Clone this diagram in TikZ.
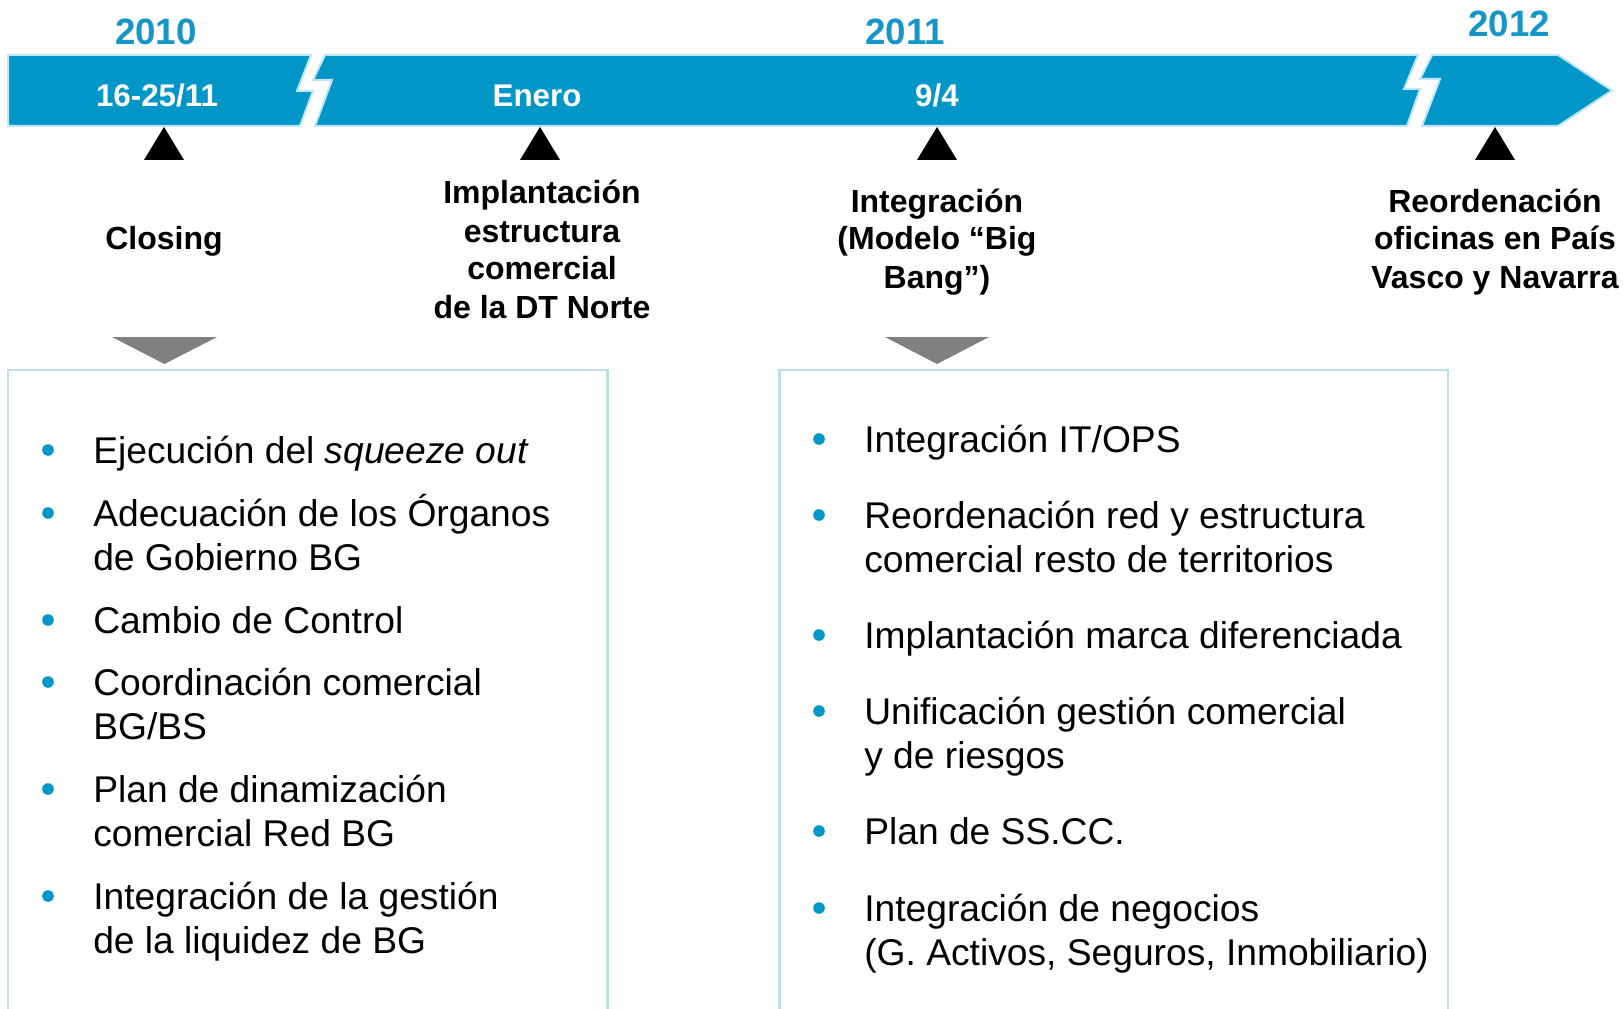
\documentclass[tikz,border=0pt]{standalone}
\usepackage{fontspec}
\setmainfont{Liberation Sans}
\usepackage{tikz}

\definecolor{bandblue}{RGB}{0,151,200}
\definecolor{bandedge}{RGB}{190,230,245}
\definecolor{yearblue}{RGB}{20,150,200}
\definecolor{boxedge}{RGB}{190,224,228}
\definecolor{markgrey}{RGB}{128,128,128}

\begin{document}
\begin{tikzpicture}[x=0.75pt,y=0.75pt,yscale=-1,xscale=1,
  yearlbl/.style={anchor=base,inner sep=0.75pt,text=yearblue,font=\fontsize{27.5}{33}\selectfont\bfseries},
  datelbl/.style={anchor=base,inner sep=0.75pt,text=white,font=\fontsize{23.5}{28}\selectfont\bfseries},
  eventlbl/.style={anchor=base,inner sep=0.75pt,align=center,font=\fontsize{24}{28.5}\selectfont\bfseries},
  itemlbl/.style={anchor=base west,inner sep=0.75pt,align=left,font=\fontsize{27.9}{33}\selectfont}]
\useasboundingbox (0,0) rectangle (1623,1009);

%Shape: Polygon (band, 2010 part)
\draw [draw=bandedge,fill=bandblue,line width=1.5] (8,55) -- (311,55) -- (297,91) -- (313,91) -- (300,126) -- (8,126) -- cycle ;
%Shape: Polygon (band, 2011 part)
\draw [draw=bandedge,fill=bandblue,line width=1.5] (325,55) -- (1418,55) -- (1404,89) -- (1420,89) -- (1407,126) -- (315,126) -- (332,80) -- (313,80) -- cycle ;
%Shape: Polygon (band, 2012 part with head)
\draw [draw=bandedge,fill=bandblue,line width=1.5] (1432,55) -- (1558,55) -- (1612,90.5) -- (1558,126) -- (1422,126) -- (1440,79) -- (1420,79) -- cycle ;

%Shape: Triangle
\fill [black] (144,160) -- (164,127) -- (184,160) -- cycle ;
%Shape: Triangle
\fill [black] (520,160) -- (540,127) -- (560,160) -- cycle ;
%Shape: Triangle
\fill [black] (917,160) -- (937,127) -- (957,160) -- cycle ;
%Shape: Triangle
\fill [black] (1475,160) -- (1495,127) -- (1515,160) -- cycle ;

%Shape: Triangle (down)
\fill [markgrey] (112,337) -- (217,337) -- (164.5,364) -- cycle ;
%Shape: Triangle (down)
\fill [markgrey] (885,337) -- (989,337) -- (937,364) -- cycle ;

%Shape: Rectangle (open at the bottom)
\draw [draw=boxedge,line width=2.2] (8,1012) -- (8,370) -- (607.5,370) -- (607.5,1012) ;
%Shape: Rectangle (open at the bottom)
\draw [draw=boxedge,line width=2.2] (779.5,1012) -- (779.5,370) -- (1448,370) -- (1448,1012) ;

% Text Node
\node (y2010) at (156,45) [yearlbl] {2010};
% Text Node
\node (y2011) at (905,45) [yearlbl] {2011};
% Text Node
\node (y2012) at (1509,37) [yearlbl] {2012};

% Text Node
\node (dClosing) at (157,107) [datelbl] {16-25/11};
% Text Node
\node (dEnero) at (537,107) [datelbl] {Enero};
% Text Node
\node (dAbril) at (937,107) [datelbl] {9/4};

% Text Node (base = last line)
\node (closing) at (164,250) [eventlbl] {Closing};
% Text Node
\node (implant) at (542,318) [eventlbl] {Implantación\\estructura\\comercial\\de la DT Norte};
% Text Node
\node (integr) at (937,288) [eventlbl] {Integración\\(Modelo “Big\\Bang”)};
% Text Node
\node (reorden) at (1495,288) [eventlbl] {Reordenación\\oficinas en País\\Vasco y Navarra};

%Shape: Circle (bullets, left)
\fill [bandblue] (48,450) circle (5.8) ;
\fill [bandblue] (48,513) circle (5.8) ;
\fill [bandblue] (48,620) circle (5.8) ;
\fill [bandblue] (48,682) circle (5.8) ;
\fill [bandblue] (48,789) circle (5.8) ;
\fill [bandblue] (48,896) circle (5.8) ;

% Text Node
\node (squeeze) at (92,463) [itemlbl] {Ejecución del \textit{squeeze out}};
% Text Node
\node (organos) at (92,570) [itemlbl] {Adecuación de los Órganos\\de Gobierno BG};
% Text Node
\node (control) at (92,633) [itemlbl] {Cambio de Control};
% Text Node
\node (coord) at (92,739) [itemlbl] {Coordinación comercial\\BG/BS};
% Text Node
\node (dinam) at (92,846) [itemlbl] {Plan de dinamización\\comercial Red BG};
% Text Node
\node (liquidez) at (92,953) [itemlbl] {Integración de la gestión\\de la liquidez de BG};

%Shape: Circle (bullets, right)
\fill [bandblue] (819,439) circle (5.8) ;
\fill [bandblue] (819,515) circle (5.8) ;
\fill [bandblue] (819,635) circle (5.8) ;
\fill [bandblue] (819,711) circle (5.8) ;
\fill [bandblue] (819,831) circle (5.8) ;
\fill [bandblue] (819,908) circle (5.8) ;

% Text Node
\node (itops) at (863,452) [itemlbl] {Integración IT/OPS};
% Text Node
\node (redestr) at (863,572) [itemlbl] {Reordenación red y estructura\\comercial resto de territorios};
% Text Node
\node (marca) at (863,648) [itemlbl] {Implantación marca diferenciada};
% Text Node
\node (riesgos) at (863,768) [itemlbl] {Unificación gestión comercial\\y de riesgos};
% Text Node
\node (sscc) at (863,844) [itemlbl] {Plan de SS.CC.};
% Text Node
\node (negocios) at (863,965) [itemlbl] {Integración de negocios\\(G. Activos, Seguros, Inmobiliario)};
\end{tikzpicture}
\end{document}
